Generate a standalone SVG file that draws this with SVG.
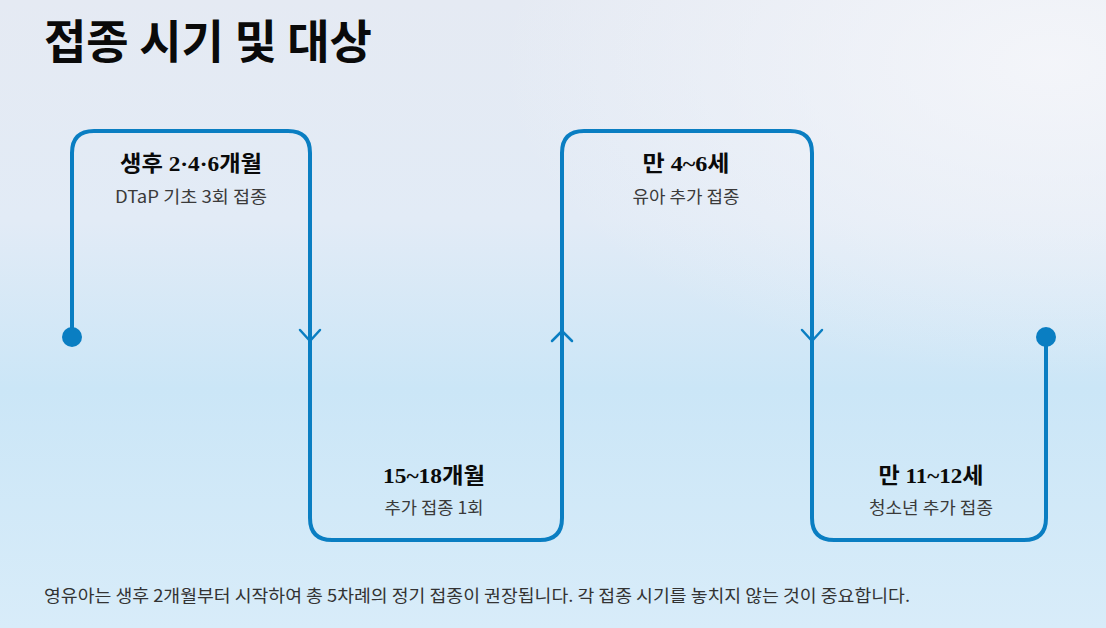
<svg xmlns="http://www.w3.org/2000/svg" width="1106" height="628" viewBox="0 0 1106 628">
<defs>
<linearGradient id="bg" x1="0" y1="0" x2="0" y2="1">
<stop offset="0" stop-color="#E5EAF3"/>
<stop offset="0.35" stop-color="#E2EBF6"/>
<stop offset="0.62" stop-color="#CBE6F7"/>
<stop offset="1" stop-color="#D8ECF9"/>
</linearGradient>
<radialGradient id="glow" cx="0.95" cy="0.1" r="0.5">
<stop offset="0" stop-color="#F5F6FA" stop-opacity="0.9"/>
<stop offset="1" stop-color="#F5F6FA" stop-opacity="0"/>
</radialGradient>
<style>
.title{font-family:"Noto Sans CJK KR","Noto Sans",sans-serif;font-weight:700;font-size:46px;fill:#0a0a0a}
.head{font-family:"Liberation Serif","Noto Sans CJK KR",serif;font-weight:700;font-size:22px;fill:#0a0a0a;text-anchor:middle}
.sub{font-family:"Noto Sans CJK KR","Noto Sans",sans-serif;font-size:17px;fill:#3a3a3a;text-anchor:middle}
.foot{font-family:"Noto Sans CJK KR","Noto Sans",sans-serif;font-size:17px;fill:#333}
.line{fill:none;stroke:#0A7EC2;stroke-width:4;stroke-linecap:round;stroke-linejoin:round}
.chev{fill:none;stroke:#0A7EC2;stroke-width:2.5;stroke-linecap:round;stroke-linejoin:round}
.dot{fill:#0A7EC2}
</style>
</defs>
<rect width="1106" height="628" fill="url(#bg)"/>
<rect width="1106" height="628" fill="url(#glow)"/>
<text class="title" x="44" y="58" textLength="328" lengthAdjust="spacingAndGlyphs">접종 시기 및 대상</text>
<g id="connectors">
<path class="line" d="M72,337 V153 Q72,131 94,131 H288 Q310,131 310,153 V518 Q310,540 332,540 H540 Q562,540 562,518 V153 Q562,131 584,131 H790 Q812,131 812,153 V518 Q812,540 834,540 H1024 Q1046,540 1046,518 V337"/>
<path class="chev" d="M300,330 L310,341 L320,330"/>
<path class="chev" d="M552,341 L562,331 L572,341"/>
<path class="chev" d="M802,330 L812,341 L822,330"/>
<circle class="dot" cx="72" cy="337" r="10"/>
<circle class="dot" cx="1046" cy="337" r="10"/>
</g>
<g id="node1">
<text class="head" x="191" y="171" textLength="142" lengthAdjust="spacingAndGlyphs">생후 2·4·6개월</text>
<text class="sub" x="191" y="203" textLength="152" lengthAdjust="spacingAndGlyphs">DTaP 기초 3회 접종</text>
</g>
<g id="node2">
<text class="head" x="434" y="483" textLength="102" lengthAdjust="spacingAndGlyphs">15~18개월</text>
<text class="sub" x="434" y="514" textLength="99" lengthAdjust="spacingAndGlyphs">추가 접종 1회</text>
</g>
<g id="node3">
<text class="head" x="686" y="171" textLength="87" lengthAdjust="spacingAndGlyphs">만 4~6세</text>
<text class="sub" x="686" y="203" textLength="107" lengthAdjust="spacingAndGlyphs">유아 추가 접종</text>
</g>
<g id="node4">
<text class="head" x="931" y="483" textLength="105" lengthAdjust="spacingAndGlyphs">만 11~12세</text>
<text class="sub" x="931" y="514" textLength="124" lengthAdjust="spacingAndGlyphs">청소년 추가 접종</text>
</g>
<text class="foot" x="44" y="602" textLength="866" lengthAdjust="spacingAndGlyphs">영유아는 생후 2개월부터 시작하여 총 5차례의 정기 접종이 권장됩니다. 각 접종 시기를 놓치지 않는 것이 중요합니다.</text>
</svg>
